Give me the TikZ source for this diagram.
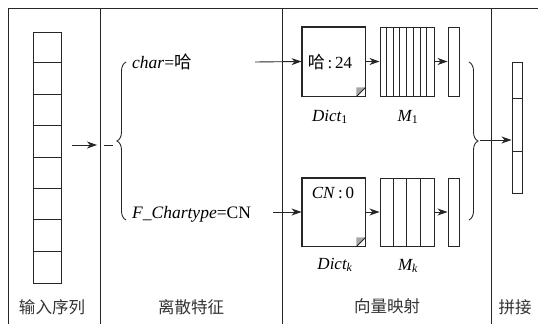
\documentclass[tikz,border=0pt]{standalone}
\usepackage{fontspec}
\setmainfont{Liberation Serif}
\newfontfamily\cjk{Noto Sans CJK SC}
\usetikzlibrary{arrows.meta,decorations.pathreplacing,calc}
\begin{document}
\begin{tikzpicture}[x=1pt,y=-1pt,
  line/.style={draw=black!85,line width=0.9pt},
  arr/.style={line,-{Stealth[length=10pt,width=7pt,inset=3pt]}},
  sect/.style={font=\cjk\fontsize{16.5}{16.5}\selectfont,text=black!80},
  feat/.style={font=\fontsize{17.5}{17.5}\selectfont,anchor=west,inner sep=0pt},
  lab/.style={font=\fontsize{17}{17}\selectfont\itshape},
  box/.style={line,rectangle,inner sep=0pt},
  brc/.style={line,decorate,decoration={brace,amplitude=9pt,aspect=0.5}}]
\useasboundingbox (0,0) rectangle (538,324);
% frame and dividers
\draw[line] (8,324) -- (8,8) -- (538,8);
\draw[line] (100,8) -- (100,324);
\draw[line] (282,8) -- (282,324);
\draw[line] (491,8) -- (491,324);
% section labels
\node[sect] (s1) at (52,307) {输入序列};
\node[sect] (s2) at (191,307) {离散特征};
\node[sect] (s3) at (387,306) {向量映射};
\node[sect] (s4) at (515,307) {拼接};
% input sequence
\node[box,draw,minimum width=28,minimum height=251] (inp) at (47,157.5) {};
\foreach \i in {1,...,7}{\draw[line] ($(inp.north west)+(0,{\i*251/8})$) -- ($(inp.north east)+(0,{\i*251/8})$);}
\coordinate (a0) at (72,145);
\coordinate (a1) at (97,145);
\draw[arr] (a0) -- (a1);
\coordinate (d0) at (104,145);
\coordinate (d1) at (113,145);
\draw[line] (d0) -- (d1);
% left brace
\coordinate (lb1) at (126,220);
\coordinate (lb2) at (126,62);
\draw[brc] (lb1) -- (lb2);
% features
\node[feat] (f1) at (132,62) {\textit{char}={\cjk 哈}};
\node[feat] (f2) at (132,214) {\textit{F\_Chartype}=CN};
% dictionaries
\node[box,minimum width=63,minimum height=69] (dict1) at (333.5,61.5) {};
\node[box,minimum width=63,minimum height=68] (dictk) at (333.5,212) {};
\foreach \d in {dict1,dictk}{
  \fill[black!35] ($(\d.south east)+(-9,-9)$) -- ($(\d.south east)+(0,-9)$) -- ($(\d.south east)+(-9,0)$) -- cycle;
  \draw[line] (\d.south west) -- (\d.north west) -- (\d.north east) -- ($(\d.south east)+(0,-9)$) -- ($(\d.south east)+(-9,0)$) -- cycle;
}
\node[font=\fontsize{17}{17}\selectfont] (t1) at (330,62) {{\cjk 哈}\,:\,24};
\node[font=\fontsize{17}{17}\selectfont] (tk) at (333,193) {\textit{CN}\,:\,0};
\node[lab] (l1) at (330,117) {Dict\textsubscript{\upshape 1}};
\node[lab] (lk) at (335,265) {Dict\textsubscript{\itshape k}};
% matrices
\node[box,draw,minimum width=54,minimum height=69] (m1) at (407,61.5) {};
\node[box,draw,minimum width=54,minimum height=68] (mk) at (407,212) {};
\foreach \i in {1,...,7}{\draw[line] ($(m1.north west)+({\i*54/8},0)$) -- ($(m1.south west)+({\i*54/8},0)$);}
\foreach \i in {1,...,3}{\draw[line] ($(mk.north west)+({\i*54/4},0)$) -- ($(mk.south west)+({\i*54/4},0)$);}
\node[lab] (lm1) at (408,117) {M\textsubscript{\upshape 1}};
\node[lab] (lmk) at (408,266) {M\textsubscript{\itshape k}};
% vectors
\node[box,draw,minimum width=11,minimum height=69] (v1) at (453.5,61.5) {};
\node[box,draw,minimum width=11,minimum height=68] (vk) at (453.5,212) {};
% arrows
\coordinate (c1) at (255,62);
\coordinate (ck) at (273,212);
\draw[arr] (c1) -- (dict1.west);
\draw[arr] (ck) -- (dictk.west);
\draw[arr] (dict1.east) -- (m1.west);
\draw[arr] (dictk.east) -- (mk.west);
\draw[arr] (m1.east) -- (v1.west);
\draw[arr] (mk.east) -- (vk.west);
% right brace
\coordinate (rb1) at (469,62);
\coordinate (rb2) at (469,220);
\draw[brc] (rb1) -- (rb2);
% concatenated vector
\node[box,draw,minimum width=10,minimum height=131] (cat) at (517,127.5) {};
\draw[line] ($(cat.north west)+(0,37)$) -- ($(cat.north east)+(0,37)$);
\draw[line] ($(cat.north west)+(0,90)$) -- ($(cat.north east)+(0,90)$);
\coordinate (rt) at (480,140);
\draw[arr] (rt) -- (cat.west |- rt);
\end{tikzpicture}
\end{document}
